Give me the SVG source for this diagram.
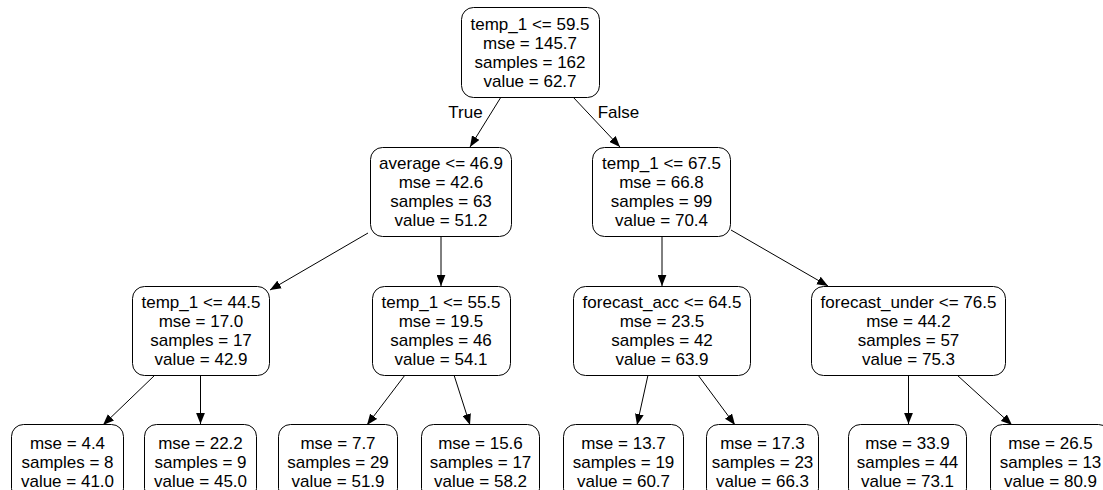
<svg xmlns="http://www.w3.org/2000/svg" width="1103" height="490" viewBox="0 0 1103 490">
<style>
  .box { fill: #ffffff; stroke: #000000; stroke-width: 1; }
  .t { font-family: "Liberation Sans", Arial, Helvetica, sans-serif; font-size: 17px; fill: #000000; text-anchor: middle; }
  .edge { stroke: #000000; stroke-width: 1; fill: none; marker-end: url(#arrow); }
</style>
<defs>
  <marker id="arrow" markerUnits="userSpaceOnUse" markerWidth="11" markerHeight="9" viewBox="0 0 10 8" refX="10" refY="4" orient="auto">
    <path d="M0,0 L10,4 L0,8 z" fill="#000000"/>
  </marker>
</defs>
<rect width="1103" height="490" fill="#ffffff"/>

<g id="connectors">
  <line class="edge" x1="501" y1="97" x2="470" y2="147"/>
  <line class="edge" x1="573" y1="97" x2="620" y2="147"/>
  <line class="edge" x1="368" y1="233" x2="270" y2="290"/>
  <line class="edge" x1="441" y1="236" x2="441" y2="286"/>
  <line class="edge" x1="662" y1="237" x2="662" y2="286"/>
  <line class="edge" x1="731" y1="230" x2="828" y2="286"/>
  <line class="edge" x1="155" y1="375" x2="103" y2="425"/>
  <line class="edge" x1="200.5" y1="375" x2="200.5" y2="424"/>
  <line class="edge" x1="405" y1="375" x2="367" y2="425"/>
  <line class="edge" x1="454" y1="375" x2="470" y2="425"/>
  <line class="edge" x1="648" y1="375" x2="637" y2="425"/>
  <line class="edge" x1="698" y1="375" x2="735" y2="425"/>
  <line class="edge" x1="908.5" y1="375" x2="908.5" y2="424"/>
  <line class="edge" x1="957" y1="375" x2="1012" y2="425"/>
  <text class="t" x="465.5" y="118">True</text>
  <text class="t" x="618.5" y="118">False</text>
</g>

<g id="n0">
  <rect class="box" x="461.5" y="7.5" width="138" height="90" rx="12"/>
  <text class="t" x="530" y="29.5">temp_1 &lt;= 59.5</text>
  <text class="t" x="530" y="48.5">mse = 145.7</text>
  <text class="t" x="530" y="67.5">samples = 162</text>
  <text class="t" x="530" y="86.5">value = 62.7</text>
</g>

<g id="n1">
  <rect class="box" x="370.5" y="147.5" width="141" height="89" rx="12"/>
  <text class="t" x="441" y="169">average &lt;= 46.9</text>
  <text class="t" x="441" y="188">mse = 42.6</text>
  <text class="t" x="441" y="207">samples = 63</text>
  <text class="t" x="441" y="226">value = 51.2</text>
</g>

<g id="n2">
  <rect class="box" x="592.5" y="147.5" width="138" height="89" rx="12"/>
  <text class="t" x="661.5" y="169">temp_1 &lt;= 67.5</text>
  <text class="t" x="661.5" y="188">mse = 66.8</text>
  <text class="t" x="661.5" y="207">samples = 99</text>
  <text class="t" x="661.5" y="226">value = 70.4</text>
</g>

<g id="n3">
  <rect class="box" x="132.5" y="286.5" width="137" height="89" rx="12"/>
  <text class="t" x="201" y="308">temp_1 &lt;= 44.5</text>
  <text class="t" x="201" y="327">mse = 17.0</text>
  <text class="t" x="201" y="346">samples = 17</text>
  <text class="t" x="201" y="365">value = 42.9</text>
</g>

<g id="n4">
  <rect class="box" x="372.5" y="286.5" width="138" height="89" rx="12"/>
  <text class="t" x="441" y="308">temp_1 &lt;= 55.5</text>
  <text class="t" x="441" y="327">mse = 19.5</text>
  <text class="t" x="441" y="346">samples = 46</text>
  <text class="t" x="441" y="365">value = 54.1</text>
</g>

<g id="n5">
  <rect class="box" x="573.5" y="286.5" width="177" height="89" rx="12"/>
  <text class="t" x="662" y="308">forecast_acc &lt;= 64.5</text>
  <text class="t" x="662" y="327">mse = 23.5</text>
  <text class="t" x="662" y="346">samples = 42</text>
  <text class="t" x="662" y="365">value = 63.9</text>
</g>

<g id="n6">
  <rect class="box" x="811.5" y="286.5" width="194" height="89" rx="12"/>
  <text class="t" x="908.5" y="308">forecast_under &lt;= 76.5</text>
  <text class="t" x="908.5" y="327">mse = 44.2</text>
  <text class="t" x="908.5" y="346">samples = 57</text>
  <text class="t" x="908.5" y="365">value = 75.3</text>
</g>

<g id="n7">
  <rect class="box" x="11.5" y="424.5" width="112" height="76" rx="12"/>
  <text class="t" x="67.5" y="448.5">mse = 4.4</text>
  <text class="t" x="67.5" y="467.5">samples = 8</text>
  <text class="t" x="67.5" y="486.5">value = 41.0</text>
</g>

<g id="n8">
  <rect class="box" x="144.5" y="424.5" width="112" height="76" rx="12"/>
  <text class="t" x="200.5" y="448.5">mse = 22.2</text>
  <text class="t" x="200.5" y="467.5">samples = 9</text>
  <text class="t" x="200.5" y="486.5">value = 45.0</text>
</g>

<g id="n9">
  <rect class="box" x="278.5" y="424.5" width="119" height="76" rx="12"/>
  <text class="t" x="338" y="448.5">mse = 7.7</text>
  <text class="t" x="338" y="467.5">samples = 29</text>
  <text class="t" x="338" y="486.5">value = 51.9</text>
</g>

<g id="n10">
  <rect class="box" x="421.5" y="424.5" width="118" height="76" rx="12"/>
  <text class="t" x="480.5" y="448.5">mse = 15.6</text>
  <text class="t" x="480.5" y="467.5">samples = 17</text>
  <text class="t" x="480.5" y="486.5">value = 58.2</text>
</g>

<g id="n11">
  <rect class="box" x="563.5" y="424.5" width="120" height="76" rx="12"/>
  <text class="t" x="623.5" y="448.5">mse = 13.7</text>
  <text class="t" x="623.5" y="467.5">samples = 19</text>
  <text class="t" x="623.5" y="486.5">value = 60.7</text>
</g>

<g id="n12">
  <rect class="box" x="706.5" y="424.5" width="112" height="76" rx="12"/>
  <text class="t" x="762.5" y="448.5">mse = 17.3</text>
  <text class="t" x="762.5" y="467.5">samples = 23</text>
  <text class="t" x="762.5" y="486.5">value = 66.3</text>
</g>

<g id="n13">
  <rect class="box" x="848.5" y="424.5" width="118" height="76" rx="12"/>
  <text class="t" x="907.5" y="448.5">mse = 33.9</text>
  <text class="t" x="907.5" y="467.5">samples = 44</text>
  <text class="t" x="907.5" y="486.5">value = 73.1</text>
</g>

<g id="n14">
  <rect class="box" x="990.5" y="424.5" width="120" height="76" rx="12"/>
  <text class="t" x="1050.5" y="448.5">mse = 26.5</text>
  <text class="t" x="1050.5" y="467.5">samples = 13</text>
  <text class="t" x="1050.5" y="486.5">value = 80.9</text>
</g>
</svg>
